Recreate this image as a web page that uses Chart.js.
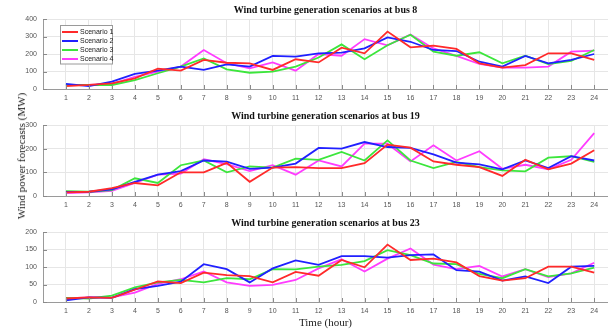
<!DOCTYPE html>
<html><head><meta charset="utf-8">
<script src="https://cdn.jsdelivr.net/npm/chart.js@4"></script>
<style>
html,body{margin:0;padding:0;background:#fff;width:608px;height:335px;overflow:hidden;position:relative}
canvas{position:absolute;left:0}
#ytitle{position:absolute;left:21px;top:156px;transform:translate(-50%,-50%) rotate(-90deg);font:11px "Liberation Serif";white-space:nowrap;color:#222}
</style></head><body>
<canvas id="c1" width="608" height="106" style="top:0"></canvas>
<canvas id="c2" width="608" height="107" style="top:106px"></canvas>
<canvas id="c3" width="608" height="119" style="top:213px"></canvas>
<div id="ytitle">Wind power forecasts (MW)</div>
<script>
// ---- data ----
const hours = [1,2,3,4,5,6,7,8,9,10,11,12,13,14,15,16,17,18,19,20,21,22,23,24];
const seriesNames = ["Scenario 1","Scenario 2","Scenario 3","Scenario 4"];
const seriesColors = ["#ff2a2a","#2020ff","#3ce63c","#ff3cff"];

const bus8_s1 = [17,23,32,61,116,105,166,150,147,109,170,152,236,204,328,238,248,229,147,122,137,204,204,166];
const bus8_s2 = [29,17,42,86,105,128,109,141,128,189,185,204,208,232,295,270,223,217,156,128,189,147,166,200];
const bus8_s3 = [23,23,23,51,90,128,175,112,93,99,128,180,255,170,250,310,213,190,210,147,190,143,160,223];
const bus8_s4 = [23,23,29,70,99,128,223,147,118,152,105,200,190,285,250,312,232,189,143,122,122,128,213,219];

const bus19_s1 = [15,18,33,55,45,100,100,140,60,120,122,118,118,139,217,204,146,132,122,85,153,113,137,193];
const bus19_s2 = [17,18,28,60,90,105,150,145,115,120,137,203,200,228,207,203,176,141,134,113,150,118,168,150];
const bus19_s3 = [20,18,25,75,55,130,150,100,125,120,158,153,186,150,235,150,118,144,122,108,104,162,168,144];
const bus19_s4 = [12,15,22,55,90,95,155,135,105,130,90,150,125,221,221,146,214,150,189,115,132,113,153,266];

const bus23_s1 = [10,13,12,35,59,54,84,77,74,56,86,75,120,99,164,120,124,113,74,61,68,101,101,84];
const bus23_s2 = [5,13,12,37,46,58,108,94,56,96,119,106,131,131,127,134,136,91,87,61,73,54,101,103];
const bus23_s3 = [12,10,18,42,56,63,56,68,65,94,93,101,106,117,148,134,110,108,80,68,94,73,82,98];
const bus23_s4 = [10,13,13,27,52,65,87,56,46,49,63,96,122,87,124,153,107,94,103,73,94,71,82,112];

const panelTitles = ["Wind turbine generation scenarios at bus 8","Wind turbine generation scenarios at bus 19","Wind turbine generation scenarios at bus 23"];
const yMax = [400,300,200];
const yStep = [100,100,50];
const xTitle = "Time (hour)";

// ---- plugins ----
const inwardTicks = {
  id:'inwardTicks',
  afterDraw(chart){
    const {ctx, chartArea:a, scales:{x,y}} = chart;
    ctx.save();
    ctx.strokeStyle='#8a8a8a'; ctx.lineWidth=1;
    ctx.beginPath();
    x.ticks.forEach(t=>{const px=Math.round(x.getPixelForValue(t.value))+0.5; ctx.moveTo(px,a.bottom); ctx.lineTo(px,a.bottom-4);});
    y.ticks.forEach(t=>{const py=Math.round(y.getPixelForValue(t.value))+0.5; ctx.moveTo(a.left,py); ctx.lineTo(a.left+4,py);});
    ctx.stroke();
    ctx.restore();
  }
};
const boxLegend = {
  id:'boxLegend',
  afterDraw(chart, args, opts){
    if(!opts.show) return;
    const ctx = chart.ctx;
    const bx=60, by=25.5, bw=52, bh=38.5;
    ctx.save();
    ctx.fillStyle='#fff'; ctx.fillRect(bx,by,bw,bh);
    ctx.strokeStyle='#9a9a9a'; ctx.lineWidth=1; ctx.strokeRect(bx+0.5,by,bw,bh);
    ctx.font='7px "Liberation Sans", Arial'; ctx.textBaseline='middle'; ctx.fillStyle='#222';
    chart.data.datasets.forEach((d,i)=>{
      const yy = by+6.5+i*9;
      ctx.strokeStyle=d.borderColor; ctx.lineWidth=2;
      ctx.beginPath(); ctx.moveTo(bx+2,yy); ctx.lineTo(bx+18,yy); ctx.stroke();
      ctx.fillText(d.label, bx+20, yy+0.5);
    });
    ctx.restore();
  }
};

function makeChart(id, idx, series, withXTitle){
  new Chart(document.getElementById(id), {
    type:'line',
    data:{
      datasets: series.map((s,i)=>({
        label: seriesNames[i],
        data: hours.map((h,k)=>({x:h, y:s[k]})),
        borderColor: seriesColors[i],
        backgroundColor: seriesColors[i],
        borderWidth: 1.8,
        pointRadius: 0,
        tension: 0
      }))
    },
    options:{
      responsive:false, animation:false, devicePixelRatio:1,
      layout:{padding:{top:0,left:0,right:0,bottom:0}},
      plugins:{
        legend:{display:false},
        tooltip:{enabled:false},
        title:{display:true, text:panelTitles[idx], fullSize:false, color:'#111',
          font:{family:'"Liberation Serif", "Times New Roman", serif', size:10, weight:'bold', lineHeight:1.2},
          padding:{top:4,bottom:3}},
        boxLegend:{show: idx===0}
      },
      scales:{
        x:{type:'linear', min:0, max:24.6,
          afterBuildTicks: s=>{ s.ticks = hours.map(v=>({value:v})); },
          afterFit: s=>{ s.height = withXTitle ? 30 : 17; },
          grid:{color:'#e6e6e6', drawTicks:false},
          border:{color:'#9a9a9a'},
          ticks:{padding:5, color:'#555', font:{family:'"Liberation Sans", Arial', size:7},
            callback:v=>String(v), maxRotation:0, autoSkip:false},
          title:{display:withXTitle, text:xTitle, color:'#222', padding:{top:0,bottom:2.4},
            font:{family:'"Liberation Serif", "Times New Roman", serif', size:11}}
        },
        y:{min:0, max:yMax[idx],
          afterFit: s=>{ s.width = 43; },
          grid:{color:'#e6e6e6', drawTicks:false},
          border:{color:'#9a9a9a'},
          ticks:{stepSize:yStep[idx], padding:6, color:'#555', font:{family:'"Liberation Sans", Arial', size:7}}
        }
      }
    },
    plugins:[inwardTicks, boxLegend]
  });
}

makeChart('c1', 0, [bus8_s1,bus8_s2,bus8_s3,bus8_s4], false);
makeChart('c2', 1, [bus19_s1,bus19_s2,bus19_s3,bus19_s4], false);
makeChart('c3', 2, [bus23_s1,bus23_s2,bus23_s3,bus23_s4], true);
</script>
</body></html>
